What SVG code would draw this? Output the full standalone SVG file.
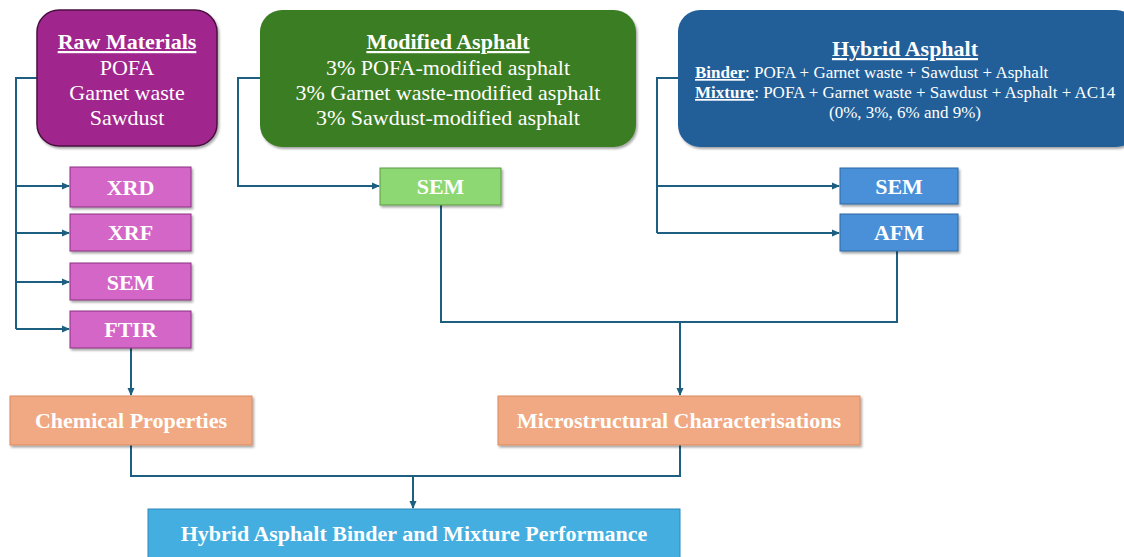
<svg xmlns="http://www.w3.org/2000/svg" width="1124" height="557" viewBox="0 0 1124 557">
<style>
.t{font-family:"Liberation Serif","Times New Roman",serif;fill:#fff;text-anchor:middle}
.b{font-weight:bold}
.u{text-decoration:underline}
.c{fill:none;stroke:#1d5f80;stroke-width:2}
</style>
<defs>
<marker id="ah" markerWidth="8" markerHeight="8" refX="7" refY="4" orient="auto" markerUnits="userSpaceOnUse">
<path d="M0,0.5 L8,4 L0,7.5 Z" fill="#1d5f80"/>
</marker>
<filter id="sh" x="-5%" y="-10%" width="115%" height="130%">
<feDropShadow dx="1.5" dy="2" stdDeviation="1.2" flood-color="#000" flood-opacity="0.35"/>
</filter>
</defs>
<rect width="1124" height="557" fill="#fff"/>
<g id="connectors">
<path class="c" d="M37,78 H16 V329"/>
<path class="c" d="M16,186 H69" marker-end="url(#ah)"/>
<path class="c" d="M16,233 H69" marker-end="url(#ah)"/>
<path class="c" d="M16,282 H69" marker-end="url(#ah)"/>
<path class="c" d="M16,329 H69" marker-end="url(#ah)"/>
<path class="c" d="M131,348 V395" marker-end="url(#ah)"/>
<path class="c" d="M260,78 H238 V186 H379" marker-end="url(#ah)"/>
<path class="c" d="M678,78 H657 V233"/>
<path class="c" d="M657,186 H839" marker-end="url(#ah)"/>
<path class="c" d="M657,233 H839" marker-end="url(#ah)"/>
<path class="c" d="M441,205 V322 H897 V251"/>
<path class="c" d="M680,322 V395" marker-end="url(#ah)"/>
<path class="c" d="M131,445 V476 H680 V445"/>
<path class="c" d="M413,476 V508" marker-end="url(#ah)"/>
</g>
<g id="raw-materials">
<rect x="37" y="10" width="180" height="136" rx="22" fill="#a0288e" stroke="#4a1040" stroke-width="1.5" filter="url(#sh)"/>
<text class="t b u" x="127" y="49" font-size="22">Raw Materials</text>
<text class="t" x="127" y="75" font-size="22">POFA</text>
<text class="t" x="127" y="100" font-size="22">Garnet waste</text>
<text class="t" x="127" y="125" font-size="22">Sawdust</text>
</g>
<g id="modified-asphalt">
<rect x="260" y="10" width="376" height="137" rx="22" fill="#3b7d23" filter="url(#sh)"/>
<text class="t b u" x="448" y="49" font-size="22">Modified Asphalt</text>
<text class="t" x="448" y="75" font-size="22">3% POFA-modified asphalt</text>
<text class="t" x="448" y="100" font-size="22">3% Garnet waste-modified asphalt</text>
<text class="t" x="448" y="125" font-size="22">3% Sawdust-modified asphalt</text>
</g>
<g id="hybrid-asphalt">
<rect x="678" y="10" width="460" height="137" rx="22" fill="#215e99" filter="url(#sh)"/>
<text class="t b u" x="905" y="56" font-size="22">Hybrid Asphalt</text>
<text class="t" x="695" y="78" font-size="17" style="text-anchor:start"><tspan class="b u">Binder</tspan>: POFA + Garnet waste + Sawdust + Asphalt</text>
<text class="t" x="695" y="98" font-size="17" style="text-anchor:start"><tspan class="b u">Mixture</tspan>: POFA + Garnet waste + Sawdust + Asphalt + AC14</text>
<text class="t" x="905" y="118" font-size="17">(0%, 3%, 6% and 9%)</text>
</g>
<g id="xrd">
<rect x="70" y="167" width="121" height="40" fill="#d466c8" stroke="#8a3080" stroke-width="1" filter="url(#sh)"/>
<text class="t b" x="130.5" y="195" font-size="22">XRD</text>
</g>
<g id="xrf">
<rect x="70" y="214" width="121" height="37" fill="#d466c8" stroke="#8a3080" stroke-width="1" filter="url(#sh)"/>
<text class="t b" x="130.5" y="240" font-size="22">XRF</text>
</g>
<g id="sem-raw">
<rect x="70" y="263" width="121" height="37" fill="#d466c8" stroke="#8a3080" stroke-width="1" filter="url(#sh)"/>
<text class="t b" x="130.5" y="290" font-size="22">SEM</text>
</g>
<g id="ftir">
<rect x="70" y="311" width="121" height="37" fill="#d466c8" stroke="#8a3080" stroke-width="1" filter="url(#sh)"/>
<text class="t b" x="130.5" y="337" font-size="22">FTIR</text>
</g>
<g id="sem-modified">
<rect x="380" y="168" width="121" height="37" fill="#8ed873" stroke="#5a9a45" stroke-width="1" filter="url(#sh)"/>
<text class="t b" x="440.5" y="194" font-size="22">SEM</text>
</g>
<g id="sem-hybrid">
<rect x="840" y="168" width="118" height="36" fill="#4a90d9" stroke="#2f679f" stroke-width="1" filter="url(#sh)"/>
<text class="t b" x="899" y="194" font-size="22">SEM</text>
</g>
<g id="afm">
<rect x="840" y="214" width="118" height="37" fill="#4a90d9" stroke="#2f679f" stroke-width="1" filter="url(#sh)"/>
<text class="t b" x="899" y="240" font-size="22">AFM</text>
</g>
<g id="chemical-properties">
<rect x="10" y="396" width="242" height="49" fill="#f1a983" stroke="#d98a5e" stroke-width="1" filter="url(#sh)"/>
<text class="t b" x="131" y="428" font-size="22">Chemical Properties</text>
</g>
<g id="microstructural">
<rect x="498" y="396" width="362" height="49" fill="#f1a983" stroke="#d98a5e" stroke-width="1" filter="url(#sh)"/>
<text class="t b" x="679" y="428" font-size="22">Microstructural Characterisations</text>
</g>
<g id="performance">
<rect x="148" y="509" width="532" height="52" fill="#44aee0" stroke="#2d88b8" stroke-width="1"/>
<text class="t b" x="414" y="541" font-size="22">Hybrid Asphalt Binder and Mixture Performance</text>
</g>
</svg>
